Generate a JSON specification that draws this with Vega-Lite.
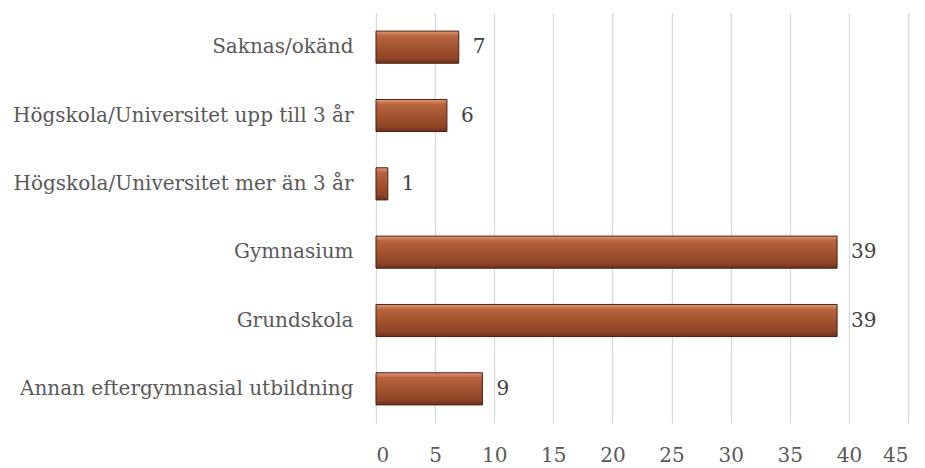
{
  "$schema": "https://vega.github.io/schema/vega-lite/v6.json",
  "width": 532,
  "height": 410,
  "autosize": {"type": "none"},
  "padding": {"left": 376, "top": 13, "right": 17, "bottom": 45},
  "background": "white",
  "config": {"view": {"stroke": null}, "font": "DejaVu Serif"},
  "data": {"values": [
    {"category": "Saknas/okänd", "value": 7},
    {"category": "Högskola/Universitet upp till 3 år", "value": 6},
    {"category": "Högskola/Universitet mer än 3 år", "value": 1},
    {"category": "Gymnasium", "value": 39},
    {"category": "Grundskola", "value": 39},
    {"category": "Annan eftergymnasial utbildning", "value": 9}
  ]},
  "encoding": {
    "y": {"field": "category", "type": "nominal", "sort": null,
      "scale": {"paddingInner": 0.53, "paddingOuter": 0.265},
      "axis": {"title": null, "domain": false, "ticks": false, "labelPadding": 23, "labelFontSize": 20, "labelColor": "#595959", "labelFont": "DejaVu Serif", "labelLimit": 400}},
    "x": {"field": "value", "type": "quantitative",
      "scale": {"domain": [0, 45], "nice": false},
      "axis": {"title": null, "values": [0,5,10,15,20,25,30,35,40,45], "domain": false, "ticks": false, "labelPadding": 22, "labelFontSize": 20, "labelColor": "#595959", "labelFont": "DejaVu Serif", "gridColor": "#d9d9d9", "gridWidth": 1.3}}
  },
  "layer": [
    {"mark": {"type": "bar", "stroke": "#4a2012", "strokeWidth": 1,
      "color": {"gradient": "linear", "x1": 0, "y1": 0, "x2": 0, "y2": 1,
        "stops": [{"offset": 0, "color": "#e09a78"}, {"offset": 0.15, "color": "#b8653f"}, {"offset": 0.5, "color": "#a4532f"}, {"offset": 0.85, "color": "#8e4426"}, {"offset": 1, "color": "#6e3019"}]}}},
    {"mark": {"type": "text", "align": "left", "dx": 14, "fontSize": 20, "color": "#404040", "font": "DejaVu Serif"},
      "encoding": {"text": {"field": "value", "type": "quantitative"}}}
  ]
}
